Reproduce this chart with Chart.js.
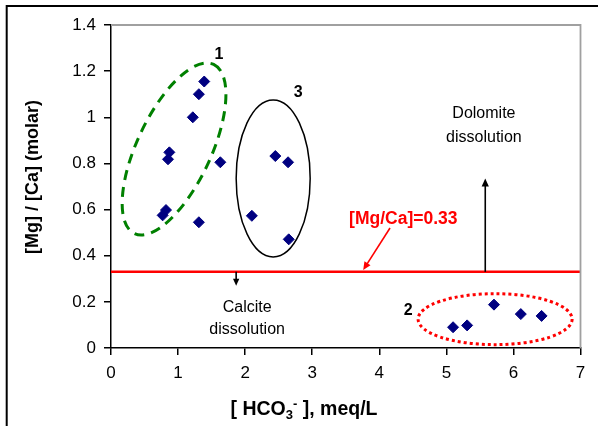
<!DOCTYPE html>
<html>
<head>
<meta charset="utf-8">
<script src="https://cdn.jsdelivr.net/npm/chart.js@4/dist/chart.umd.min.js"></script>
<style>
  html, body { margin: 0; padding: 0; background: #fff; }
  #wrap { width: 598px; height: 426px; position: relative; }
</style>
</head>
<body>
<div id="wrap"><canvas id="c" width="598" height="426"></canvas></div>
<script>
// Bicarbonate concentration (meq/L) and Mg/Ca molar ratio of the samples
const hco3 = [1.39, 1.31, 1.22, 0.87, 0.85, 1.63, 0.82, 0.77, 1.31,
              2.45, 2.64, 2.10, 2.65,
              5.10, 5.31, 5.71, 6.11, 6.42];
const mgca = [1.155, 1.10, 1.00, 0.848, 0.818, 0.805, 0.598, 0.575, 0.545,
              0.832, 0.805, 0.573, 0.471,
              0.090, 0.098, 0.188, 0.147, 0.139];

const xTicks = [0, 1, 2, 3, 4, 5, 6, 7];
const xTickLabels = ['0', '1', '2', '3', '4', '5', '6', '7'];
const yTicks = [0, 0.2, 0.4, 0.6, 0.8, 1.0, 1.2, 1.4];
const yTickLabels = ['0', '0.2', '0.4', '0.6', '0.8', '1', '1.2', '1.4'];

// Dolomite / calcite threshold ratio
const threshold = 0.33;

const FONT = '"Liberation Sans", Arial, sans-serif';

// Sample groups outlined on the plot (centre in data units, radii in px)
const groupOutlines = [
  { cx: 0.940, cy: 0.8626, rx: 93.4, ry: 37, rot: -64.9, color: '#008000', width: 3, dash: [10, 7] },
  { cx: 2.418, cy: 0.735, rx: 37, ry: 78.5, rot: 0, color: '#000000', width: 1.5, dash: [] },
  { cx: 5.727, cy: 0.125, rx: 77, ry: 25.5, rot: 0, color: '#ff0000', width: 3, dash: [3, 3] }
];

const groupTags = [
  { text: '1', x: 1.61, y: 1.27 },
  { text: '3', x: 2.79, y: 1.105 },
  { text: '2', x: 4.43, y: 0.160 }
];

const points = hco3.map((x, i) => ({ x: x, y: mgca[i] }));

function arrow(ctx, x1, y1, x2, y2, color, head) {
  const ang = Math.atan2(y2 - y1, x2 - x1);
  ctx.save();
  ctx.strokeStyle = color;
  ctx.fillStyle = color;
  ctx.lineWidth = 1.6;
  ctx.beginPath();
  ctx.moveTo(x1, y1);
  ctx.lineTo(x2 - Math.cos(ang) * head * 0.8, y2 - Math.sin(ang) * head * 0.8);
  ctx.stroke();
  ctx.beginPath();
  ctx.moveTo(x2, y2);
  ctx.lineTo(x2 - Math.cos(ang) * head + Math.sin(ang) * head * 0.45,
             y2 - Math.sin(ang) * head - Math.cos(ang) * head * 0.45);
  ctx.lineTo(x2 - Math.cos(ang) * head - Math.sin(ang) * head * 0.45,
             y2 - Math.sin(ang) * head + Math.cos(ang) * head * 0.45);
  ctx.closePath();
  ctx.fill();
  ctx.restore();
}

const decorations = {
  id: 'decorations',
  beforeDatasetsDraw(chart) {
    const { ctx, scales: { x, y } } = chart;
    groupOutlines.forEach(o => {
      ctx.save();
      ctx.strokeStyle = o.color;
      ctx.lineWidth = o.width;
      ctx.setLineDash(o.dash);
      ctx.beginPath();
      ctx.ellipse(x.getPixelForValue(o.cx), y.getPixelForValue(o.cy),
                  o.rx, o.ry, o.rot * Math.PI / 180, 0, Math.PI * 2);
      ctx.stroke();
      ctx.restore();
    });
  },
  afterDraw(chart) {
    const { ctx, chartArea: a, scales: { x, y } } = chart;
    ctx.save();

    // plot area frame (top and right)
    ctx.strokeStyle = '#a0a0a0';
    ctx.lineWidth = 1.8;
    ctx.beginPath();
    ctx.moveTo(a.left, a.top);
    ctx.lineTo(a.right, a.top);
    ctx.lineTo(a.right, a.bottom);
    ctx.stroke();

    // outer frame
    ctx.strokeStyle = '#000';
    ctx.lineWidth = 2;
    ctx.beginPath();
    ctx.moveTo(6.7, 426);
    ctx.lineTo(6.7, 6);
    ctx.lineTo(598, 6);
    ctx.stroke();

    // group numbers
    ctx.fillStyle = '#000';
    ctx.font = 'bold 16px ' + FONT;
    ctx.textAlign = 'center';
    ctx.textBaseline = 'middle';
    groupTags.forEach(t => ctx.fillText(t.text, x.getPixelForValue(t.x), y.getPixelForValue(t.y)));

    // process annotations
    ctx.font = '16px ' + FONT;
    ctx.fillStyle = '#000';
    const dx = x.getPixelForValue(5.56);
    ctx.fillText('Dolomite', dx, y.getPixelForValue(1.015));
    ctx.fillText('dissolution', dx, y.getPixelForValue(0.91));
    const cx = x.getPixelForValue(2.03);
    ctx.fillText('Calcite', cx, y.getPixelForValue(0.173));
    ctx.fillText('dissolution', cx, y.getPixelForValue(0.078));

    const ty = y.getPixelForValue(threshold);
    arrow(ctx, x.getPixelForValue(5.58), ty, x.getPixelForValue(5.58), y.getPixelForValue(0.735), '#000', 8);
    arrow(ctx, x.getPixelForValue(1.866), ty, x.getPixelForValue(1.866), y.getPixelForValue(0.27), '#000', 7);

    // threshold label with pointer
    ctx.fillStyle = '#ff0000';
    ctx.font = 'bold 17.5px ' + FONT;
    ctx.textAlign = 'left';
    ctx.fillText('[Mg/Ca]=' + threshold.toFixed(2), x.getPixelForValue(3.55), y.getPixelForValue(0.559));
    arrow(ctx, x.getPixelForValue(4.16), y.getPixelForValue(0.52),
          x.getPixelForValue(3.76), y.getPixelForValue(threshold + 0.008), '#ff0000', 8);

    // y axis title
    ctx.fillStyle = '#000';
    ctx.font = 'bold 18px ' + FONT;
    ctx.save();
    ctx.translate(33, 177);
    ctx.rotate(-Math.PI / 2);
    ctx.textAlign = 'center';
    ctx.fillText('[Mg] / [Ca] (molar)', 0, 0);
    ctx.restore();

    // x axis title with sub/superscript
    const parts = [
      { t: '[ HCO', f: 'bold 19.5px ', dy: 0 },
      { t: '3', f: 'bold 13px ', dy: 4 },
      { t: '-', f: 'bold 13px ', dy: -7 },
      { t: ' ], meq/L', f: 'bold 19.5px ', dy: 0 }
    ];
    let total = 0;
    parts.forEach(p => { ctx.font = p.f + FONT; p.w = ctx.measureText(p.t).width; total += p.w; });
    let px = 304 - total / 2;
    ctx.textAlign = 'left';
    ctx.textBaseline = 'alphabetic';
    parts.forEach(p => {
      ctx.font = p.f + FONT;
      ctx.fillText(p.t, px, 415 + p.dy);
      px += p.w;
    });
    ctx.restore();
  }
};

new Chart(document.getElementById('c'), {
  type: 'scatter',
  data: {
    datasets: [
      {
        data: points,
        pointStyle: 'rectRot',
        pointRadius: 5.5,
        backgroundColor: '#000080',
        borderColor: '#000080',
        borderWidth: 1
      },
      {
        type: 'line',
        data: [{ x: xTicks[0], y: threshold }, { x: xTicks[xTicks.length - 1], y: threshold }],
        borderColor: '#ff0000',
        borderWidth: 2.5,
        pointRadius: 0,
        fill: false
      }
    ]
  },
  options: {
    responsive: false,
    animation: false,
    devicePixelRatio: 1,
    layout: { padding: { top: 25, right: 17.5, left: 0, bottom: 0 } },
    plugins: { legend: { display: false }, tooltip: { enabled: false } },
    scales: {
      x: {
        type: 'linear',
        min: 0, max: 7,
        afterBuildTicks: s => { s.ticks = xTicks.map(v => ({ value: v })); },
        afterFit: s => { s.height = 78; },
        grid: { drawOnChartArea: false, drawTicks: true, tickLength: 7, color: '#000', lineWidth: 1.5 },
        border: { display: true, color: '#000', width: 1.5 },
        ticks: {
          color: '#000', font: { family: FONT, size: 17 }, padding: 8, maxRotation: 0,
          callback: (v, i) => xTickLabels[i]
        }
      },
      y: {
        type: 'linear',
        min: 0, max: 1.4,
        afterBuildTicks: s => { s.ticks = yTicks.map(v => ({ value: v })); },
        afterFit: s => { s.width = 111; },
        grid: { drawOnChartArea: false, drawTicks: true, tickLength: 7, color: '#000', lineWidth: 1.5 },
        border: { display: true, color: '#000', width: 1.5 },
        ticks: {
          color: '#000', font: { family: FONT, size: 17 }, padding: 8,
          callback: (v, i) => yTickLabels[i]
        }
      }
    }
  },
  plugins: [decorations]
});
</script>
</body>
</html>
